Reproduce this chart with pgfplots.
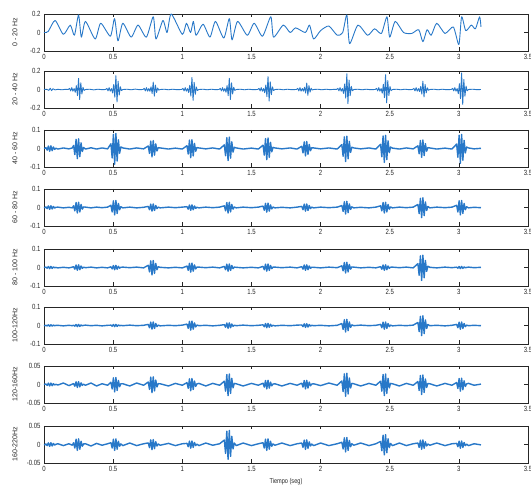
\documentclass[border=0pt]{standalone}
\usepackage{fontspec}
\setmainfont{Liberation Sans}
\newfontfamily\narrow[FakeStretch=0.8]{Liberation Sans}
\usepackage{pgfplots}
\usepackage{pgfplotstable}
\pgfplotsset{compat=1.18}
\definecolor{sigblue}{RGB}{40,120,200}

\pgfplotstableread{
t p3 p4 p5 p6 p7 p8
0 0 0 0 0 0 0
0.008 0.002 -0.001 0.001 -0.001 0.001 -0.001
0.014 0.0045 0.003 0.0018 0.0012 0.0012 0.0015
0.023 -0.009 -0.006 -0.0036 -0.0024 -0.0024 -0.003
0.032 0.0135 0.009 0.0054 0.0036 0.0036 0.0045
0.041 -0.015 -0.01 -0.006 -0.004 -0.004 -0.005
0.05 0.0143 0.0095 0.0057 0.0038 0.0038 0.0048
0.059 -0.012 -0.008 -0.0048 -0.0032 -0.0032 -0.004
0.068 0.0083 0.0055 0.0033 0.0022 0.0022 0.0028
0.077 -0.0045 -0.003 -0.0018 -0.0012 -0.0012 -0.0015
0.086 0.0015 0.001 0.0006 0.0004 0.0004 0.0005
0.1 -0.003 0.002 -0.002 0.001 -0.0015 0.002
0.14 0.003 -0.002 0.001 -0.002 0.004 -0.003
0.18 -0.002 0.001 -0.002 0.001 -0.003 0.002
0.205 0.003 -0.002 0.002 -0.001 0.001 -0.002
0.214 0.0165 0.009 0.0045 0.0018 0.0024 0.0048
0.223 -0.033 -0.018 -0.009 -0.0036 -0.0048 -0.0096
0.232 0.0495 0.027 0.0135 0.0054 0.0072 0.0144
0.241 -0.055 -0.03 -0.015 -0.006 -0.008 -0.016
0.25 0.0523 0.0285 0.0143 0.0057 0.0076 0.0152
0.259 -0.044 -0.024 -0.012 -0.0048 -0.0064 -0.0128
0.268 0.0303 0.0165 0.0083 0.0033 0.0044 0.0088
0.277 -0.0165 -0.009 -0.0045 -0.0018 -0.0024 -0.0048
0.286 0.0055 0.003 0.0015 0.0006 0.0008 0.0016
0.3 -0.003 0.002 -0.001 0.002 -0.002 0.002
0.34 0.004 -0.002 0.002 -0.001 0.004 -0.004
0.38 -0.003 0.002 -0.002 0.001 -0.004 0.003
0.42 0.003 -0.001 0.001 -0.002 0.002 -0.002
0.46 -0.002 0.002 -0.002 0.001 -0.002 0.002
0.484 0.0255 0.012 0.0036 0.0018 0.006 0.0048
0.493 -0.051 -0.024 -0.0072 -0.0036 -0.012 -0.0096
0.502 0.0765 0.036 0.0108 0.0054 0.018 0.0144
0.511 -0.085 -0.04 -0.012 -0.006 -0.02 -0.016
0.52 0.0808 0.038 0.0114 0.0057 0.019 0.0152
0.529 -0.068 -0.032 -0.0096 -0.0048 -0.016 -0.0128
0.538 0.0468 0.022 0.0066 0.0033 0.011 0.0088
0.547 -0.0255 -0.012 -0.0036 -0.0018 -0.006 -0.0048
0.556 0.0085 0.004 0.0012 0.0006 0.002 0.0016
0.57 0.003 -0.002 0.002 -0.001 0.002 -0.003
0.62 -0.003 0.002 -0.001 0.002 -0.004 0.004
0.67 0.003 -0.002 0.002 -0.001 0.004 -0.003
0.72 -0.002 0.001 -0.002 0.001 -0.002 0.002
0.754 0.0135 0.006 0.012 0.006 0.0066 0.0042
0.763 -0.027 -0.012 -0.024 -0.012 -0.0132 -0.0084
0.772 0.0405 0.018 0.036 0.018 0.0198 0.0126
0.781 -0.045 -0.02 -0.04 -0.02 -0.022 -0.014
0.79 0.0428 0.019 0.038 0.019 0.0209 0.0133
0.799 -0.036 -0.016 -0.032 -0.016 -0.0176 -0.0112
0.808 0.0248 0.011 0.022 0.011 0.0121 0.0077
0.817 -0.0135 -0.006 -0.012 -0.006 -0.0066 -0.0042
0.826 0.0045 0.002 0.004 0.002 0.0022 0.0014
0.84 0.003 -0.002 0.001 -0.002 0.002 -0.002
0.9 -0.003 0.002 -0.002 0.001 -0.004 0.003
0.95 0.002 -0.001 0.001 -0.001 0.003 -0.003
1.0 -0.003 0.002 -0.002 0.002 -0.002 0.002
1.034 0.015 0.0045 0.0075 0.0075 0.0051 0.003
1.043 -0.03 -0.009 -0.015 -0.015 -0.0102 -0.006
1.052 0.045 0.0135 0.0225 0.0225 0.0153 0.009
1.061 -0.05 -0.015 -0.025 -0.025 -0.017 -0.01
1.07 0.0475 0.0143 0.0238 0.0238 0.0162 0.0095
1.079 -0.04 -0.012 -0.02 -0.02 -0.0136 -0.008
1.088 0.0275 0.0083 0.0138 0.0138 0.0094 0.0055
1.097 -0.015 -0.0045 -0.0075 -0.0075 -0.0051 -0.003
1.106 0.005 0.0015 0.0025 0.0025 0.0017 0.001
1.12 0.003 -0.002 0.002 -0.001 0.003 -0.003
1.17 -0.002 0.002 -0.001 0.001 -0.004 0.004
1.22 0.003 -0.001 0.002 -0.002 0.003 -0.002
1.27 -0.003 0.002 -0.002 0.001 -0.002 0.002
1.304 0.0195 0.009 0.006 0.0045 0.009 0.012
1.313 -0.039 -0.018 -0.012 -0.009 -0.018 -0.024
1.322 0.0585 0.027 0.018 0.0135 0.027 0.036
1.331 -0.065 -0.03 -0.02 -0.015 -0.03 -0.04
1.34 0.0618 0.0285 0.019 0.0143 0.0285 0.038
1.349 -0.052 -0.024 -0.016 -0.012 -0.024 -0.032
1.358 0.0358 0.0165 0.011 0.0083 0.0165 0.022
1.367 -0.0195 -0.009 -0.006 -0.0045 -0.009 -0.012
1.376 0.0065 0.003 0.002 0.0015 0.003 0.004
1.39 0.003 -0.002 0.001 -0.001 0.002 -0.003
1.44 -0.003 0.002 -0.002 0.002 -0.004 0.004
1.5 0.002 -0.001 0.001 -0.001 0.003 -0.003
1.55 -0.003 0.002 -0.002 0.001 -0.002 0.002
1.584 0.018 0.0075 0.006 0.0036 0.0036 0.0048
1.593 -0.036 -0.015 -0.012 -0.0072 -0.0072 -0.0096
1.602 0.054 0.0225 0.018 0.0108 0.0108 0.0144
1.611 -0.06 -0.025 -0.02 -0.012 -0.012 -0.016
1.62 0.057 0.0238 0.019 0.0114 0.0114 0.0152
1.629 -0.048 -0.02 -0.016 -0.0096 -0.0096 -0.0128
1.638 0.033 0.0138 0.011 0.0066 0.0066 0.0088
1.647 -0.018 -0.0075 -0.006 -0.0036 -0.0036 -0.0048
1.656 0.006 0.0025 0.002 0.0012 0.0012 0.0016
1.67 0.003 -0.002 0.002 -0.002 0.002 -0.002
1.72 -0.002 0.001 -0.001 0.001 -0.004 0.004
1.78 0.003 -0.002 0.002 -0.001 0.003 -0.003
1.83 -0.003 0.002 -0.002 0.002 -0.002 0.002
1.864 0.012 0.006 0.0045 0.003 0.0036 0.0039
1.873 -0.024 -0.012 -0.009 -0.006 -0.0072 -0.0078
1.882 0.036 0.018 0.0135 0.009 0.0108 0.0117
1.891 -0.04 -0.02 -0.015 -0.01 -0.012 -0.013
1.9 0.038 0.019 0.0143 0.0095 0.0114 0.0124
1.909 -0.032 -0.016 -0.012 -0.008 -0.0096 -0.0104
1.918 0.022 0.011 0.0083 0.0055 0.0066 0.0072
1.927 -0.012 -0.006 -0.0045 -0.003 -0.0036 -0.0039
1.936 0.004 0.002 0.0015 0.001 0.0012 0.0013
1.95 0.003 -0.002 0.001 -0.001 0.002 -0.003
2.0 -0.002 0.002 -0.002 0.001 -0.003 0.004
2.06 0.003 -0.001 0.002 -0.002 0.004 -0.003
2.12 -0.003 0.002 -0.001 0.001 -0.002 0.002
2.154 0.021 0.0105 0.009 0.0105 0.0096 0.006
2.163 -0.042 -0.021 -0.018 -0.021 -0.0192 -0.012
2.172 0.063 0.0315 0.027 0.0315 0.0288 0.018
2.181 -0.07 -0.035 -0.03 -0.035 -0.032 -0.02
2.19 0.0665 0.0333 0.0285 0.0333 0.0304 0.019
2.199 -0.056 -0.028 -0.024 -0.028 -0.0256 -0.016
2.208 0.0385 0.0193 0.0165 0.0193 0.0176 0.011
2.217 -0.021 -0.0105 -0.009 -0.0105 -0.0096 -0.006
2.226 0.007 0.0035 0.003 0.0035 0.0032 0.002
2.24 0.003 -0.002 0.002 -0.001 0.002 -0.002
2.29 -0.002 0.001 -0.002 0.002 -0.004 0.004
2.35 0.003 -0.002 0.001 -0.001 0.003 -0.003
2.4 -0.003 0.002 -0.002 0.001 -0.002 0.002
2.434 0.0225 0.009 0.0045 0.006 0.009 0.0084
2.443 -0.045 -0.018 -0.009 -0.012 -0.018 -0.0168
2.452 0.0675 0.027 0.0135 0.018 0.027 0.0252
2.461 -0.075 -0.03 -0.015 -0.02 -0.03 -0.028
2.47 0.0713 0.0285 0.0143 0.019 0.0285 0.0266
2.479 -0.06 -0.024 -0.012 -0.016 -0.024 -0.0224
2.488 0.0413 0.0165 0.0083 0.011 0.0165 0.0154
2.497 -0.0225 -0.009 -0.0045 -0.006 -0.009 -0.0084
2.506 0.0075 0.003 0.0015 0.002 0.003 0.0028
2.52 0.002 -0.002 0.002 -0.002 0.002 -0.003
2.57 -0.003 0.002 -0.001 0.001 -0.004 0.004
2.62 0.003 -0.001 0.002 -0.001 0.003 -0.003
2.67 -0.002 0.002 -0.002 0.002 -0.002 0.002
2.704 0.0144 0.0165 0.021 0.0165 0.0081 0.0039
2.713 -0.0288 -0.033 -0.042 -0.033 -0.0162 -0.0078
2.722 0.0432 0.0495 0.063 0.0495 0.0243 0.0117
2.731 -0.048 -0.055 -0.07 -0.055 -0.027 -0.013
2.74 0.0456 0.0523 0.0665 0.0523 0.0257 0.0124
2.749 -0.0384 -0.044 -0.056 -0.044 -0.0216 -0.0104
2.758 0.0264 0.0303 0.0385 0.0303 0.0149 0.0072
2.767 -0.0144 -0.0165 -0.021 -0.0165 -0.0081 -0.0039
2.776 0.0048 0.0055 0.007 0.0055 0.0027 0.0013
2.79 0.003 -0.002 0.001 -0.001 0.002 -0.002
2.84 -0.003 0.002 -0.002 0.001 -0.004 0.004
2.9 0.002 -0.001 0.002 -0.002 0.003 -0.003
2.95 -0.003 0.002 -0.001 0.001 -0.002 0.002
2.984 0.024 0.012 0.0018 0.006 0.0054 0.003
2.993 -0.048 -0.024 -0.0036 -0.012 -0.0108 -0.006
3.002 0.072 0.036 0.0054 0.018 0.0162 0.009
3.011 -0.08 -0.04 -0.006 -0.02 -0.018 -0.01
3.02 0.076 0.038 0.0057 0.019 0.0171 0.0095
3.029 -0.064 -0.032 -0.0048 -0.016 -0.0144 -0.008
3.038 0.044 0.022 0.0033 0.011 0.0099 0.0055
3.047 -0.024 -0.012 -0.0018 -0.006 -0.0054 -0.003
3.056 0.008 0.004 0.0006 0.002 0.0018 0.001
3.07 0.003 -0.002 0.002 -0.001 0.003 -0.003
3.11 -0.002 0.001 -0.001 0.001 -0.002 0.002
3.16 0.001 -0.001 0.001 -0.001 0.001 -0.001
}\bursts

\pgfplotsset{
  panel/.style={
    scale only axis, width=484pt, height=37pt, anchor=north west,
    xmin=0, xmax=3.5,
    xtick={0,0.5,1,1.5,2,2.5,3,3.5},
    xticklabels={0,0.5,1,1.5,2,2.5,3,3.5},
    scaled y ticks=false, scaled x ticks=false,
    tick align=inside, major tick length=3.5pt,
    axis line style={line width=0.9pt, black!85},
    every tick/.style={black!85, line width=0.7pt},
    tick label style={font=\narrow\fontsize{7.5}{8}\selectfont, black!85},
    ylabel style={font=\fontsize{7}{8}\selectfont, black!85,
      at={(axis description cs:-0.06,0.5)}, anchor=center},
    xlabel style={font=\narrow\fontsize{7}{8}\selectfont, black!85},
  },
  r2/.style={ymin=-0.2,ymax=0.2,ytick={-0.2,0,0.2},yticklabels={-0.2,0,0.2}},
  r1/.style={ymin=-0.1,ymax=0.1,ytick={-0.1,0,0.1},yticklabels={-0.1,0,0.1}},
  r05/.style={ymin=-0.05,ymax=0.05,ytick={-0.05,0,0.05},yticklabels={-0.05,0,0.05}},
  sig/.style={sigblue, line width=0.9pt, line join=round},
  blob/.style={sigblue, line width=1.4pt, line join=round},
}

\begin{document}
\begin{tikzpicture}
\path[use as bounding box] (0,0) rectangle (531pt,-494pt);

% Panel 1
\begin{axis}[panel, r2, at={(44pt,-14pt)}, ylabel={0 - 20 Hz}]
\addplot[sig, smooth, tension=0.4] coordinates {
(0,0)(0.03,0.01)(0.08,0.13)(0.14,-0.02)(0.19,0.08)(0.22,-0.03)(0.25,0.19)(0.27,-0.05)(0.30,0.12)(0.37,-0.07)(0.41,0.10)(0.48,-0.04)(0.51,0.15)(0.535,-0.09)(0.57,0.10)(0.63,-0.05)(0.68,0.08)(0.74,-0.05)(0.79,0.17)(0.81,-0.07)(0.86,0.13)(0.89,0.00)(0.92,0.20)(1.00,-0.02)(1.03,0.10)(1.06,0.00)(1.08,0.12)(1.10,-0.03)(1.15,0.09)(1.20,-0.05)(1.24,0.12)(1.30,-0.06)(1.34,0.15)(1.36,-0.08)(1.40,0.12)(1.47,-0.03)(1.52,0.10)(1.58,-0.04)(1.64,0.17)(1.66,-0.05)(1.73,0.08)(1.78,0.0)(1.82,0.05)(1.89,0.0)(1.92,0.08)(1.95,-0.07)(2.0,0.02)(2.06,0.07)(2.12,-0.03)(2.16,0.0)(2.19,0.19)(2.21,-0.12)(2.27,0.08)(2.34,-0.03)(2.39,0.04)(2.44,-0.01)(2.48,0.17)(2.50,-0.05)(2.54,0.12)(2.60,0.0)(2.66,-0.01)(2.71,0.03)(2.74,-0.10)(2.77,0.03)(2.80,-0.03)(2.84,0.10)(2.90,-0.01)(2.96,0.06)(3.0,-0.13)(3.02,0.17)(3.05,0.02)(3.09,0.08)(3.12,0.04)(3.15,0.17)(3.16,0.06)
};
\end{axis}

% Panel 2
\begin{axis}[panel, r2, at={(44pt,-71pt)}, ylabel={20 - 40 Hz}]
\addplot[sig] coordinates {
(0,0)(0.02,0.003)(0.035,-0.01)(0.045,0.014)(0.055,-0.012)(0.065,0.008)(0.08,-0.004)(0.1,0.002)(0.13,-0.003)(0.155,0.002)
(0.175,0)(0.185,0.012)(0.193,-0.015)(0.201,0.02)(0.209,-0.018)(0.218,0.01)(0.226,-0.03)(0.234,0.042)(0.242,-0.066)(0.25,0.12)(0.258,-0.108)(0.266,0.072)(0.274,-0.048)(0.282,0.024)(0.29,-0.0096)(0.3,0)
(0.33,0.003)(0.36,-0.004)(0.39,0.003)(0.42,-0.002)
(0.445,0)(0.455,0.012)(0.463,-0.015)(0.471,0.02)(0.479,-0.018)(0.488,0.01)(0.496,-0.0375)(0.504,0.0525)(0.512,-0.0825)(0.52,0.15)(0.528,-0.135)(0.536,0.09)(0.544,-0.06)(0.552,0.03)(0.56,-0.012)(0.57,0)
(0.6,0.003)(0.63,-0.003)(0.66,0.004)(0.69,-0.002)
(0.715,0)(0.725,0.012)(0.733,-0.015)(0.741,0.02)(0.749,-0.018)(0.758,0.01)(0.766,-0.02)(0.774,0.028)(0.782,-0.044)(0.79,0.08)(0.798,-0.072)(0.806,0.048)(0.814,-0.032)(0.822,0.016)(0.83,-0.0064)(0.84,0)
(0.87,0.003)(0.9,-0.003)(0.93,0.003)(0.96,-0.002)
(0.995,0)(1.005,0.012)(1.013,-0.015)(1.021,0.02)(1.029,-0.018)(1.038,0.01)(1.046,-0.0325)(1.054,0.0455)(1.062,-0.0715)(1.07,0.13)(1.078,-0.117)(1.086,0.078)(1.094,-0.052)(1.102,0.026)(1.11,-0.0104)(1.12,0)
(1.15,0.003)(1.18,-0.003)(1.21,0.003)(1.24,-0.002)
(1.265,0)(1.275,0.012)(1.283,-0.015)(1.291,0.02)(1.299,-0.018)(1.308,0.01)(1.316,-0.03)(1.324,0.042)(1.332,-0.066)(1.34,0.12)(1.348,-0.108)(1.356,0.072)(1.364,-0.048)(1.372,0.024)(1.38,-0.0096)(1.39,0)
(1.42,0.003)(1.45,-0.003)(1.48,0.003)(1.51,-0.002)
(1.545,0)(1.555,0.012)(1.563,-0.015)(1.571,0.02)(1.579,-0.018)(1.588,0.01)(1.596,-0.035)(1.604,0.049)(1.612,-0.077)(1.62,0.14)(1.628,-0.126)(1.636,0.084)(1.644,-0.056)(1.652,0.028)(1.66,-0.0112)(1.67,0)
(1.7,0.003)(1.73,-0.003)(1.76,0.003)(1.79,-0.002)
(1.825,0)(1.835,0.012)(1.843,-0.015)(1.851,0.02)(1.859,-0.018)(1.868,0.01)(1.876,-0.0175)(1.884,0.0245)(1.892,-0.0385)(1.9,0.07)(1.908,-0.063)(1.916,0.042)(1.924,-0.028)(1.932,0.014)(1.94,-0.0056)(1.95,0)
(1.98,0.003)(2.01,-0.003)(2.04,0.003)(2.07,-0.002)(2.1,0.002)
(2.115,0)(2.125,0.012)(2.133,-0.015)(2.141,0.02)(2.149,-0.018)(2.158,0.01)(2.166,-0.0425)(2.174,0.0595)(2.182,-0.0935)(2.19,0.17)(2.198,-0.153)(2.206,0.102)(2.214,-0.068)(2.222,0.034)(2.23,-0.0136)(2.24,0)
(2.27,0.003)(2.3,-0.003)(2.33,0.003)(2.36,-0.002)
(2.395,0)(2.405,0.012)(2.413,-0.015)(2.421,0.02)(2.429,-0.018)(2.438,0.01)(2.446,-0.04)(2.454,0.056)(2.462,-0.088)(2.47,0.16)(2.478,-0.144)(2.486,0.096)(2.494,-0.064)(2.502,0.032)(2.51,-0.0128)(2.52,0)
(2.55,0.003)(2.58,-0.003)(2.61,0.003)(2.64,-0.002)
(2.665,0)(2.675,0.012)(2.683,-0.015)(2.691,0.02)(2.699,-0.018)(2.708,0.01)(2.716,-0.0225)(2.724,0.0315)(2.732,-0.0495)(2.74,0.09)(2.748,-0.081)(2.756,0.054)(2.764,-0.036)(2.772,0.018)(2.78,-0.0072)(2.79,0)
(2.82,0.003)(2.85,-0.003)(2.88,0.003)(2.91,-0.002)
(2.945,0)(2.955,0.012)(2.963,-0.015)(2.971,0.02)(2.979,-0.018)(2.988,0.01)(2.996,-0.045)(3.004,0.063)(3.012,-0.099)(3.02,0.18)(3.028,-0.162)(3.036,0.108)(3.044,-0.072)(3.052,0.036)(3.06,-0.0144)(3.07,0)
(3.1,0.003)(3.13,-0.002)(3.16,0)
};
\end{axis}

% Panel 3
\begin{axis}[panel, r1, at={(44pt,-130pt)}, ylabel={40 - 60 Hz}]
\addplot[blob] table[x=t,y=p3] {\bursts};
\end{axis}

% Panel 4
\begin{axis}[panel, r1, at={(44pt,-189pt)}, ylabel={60 - 80 Hz}]
\addplot[blob] table[x=t,y=p4] {\bursts};
\end{axis}

% Panel 5
\begin{axis}[panel, r1, at={(44pt,-249pt)}, ylabel={80 - 100 Hz}]
\addplot[blob] table[x=t,y=p5] {\bursts};
\end{axis}

% Panel 6
\begin{axis}[panel, r1, at={(44pt,-307pt)}, ylabel={100-120Hz}]
\addplot[blob] table[x=t,y=p6] {\bursts};
\end{axis}

% Panel 7
\begin{axis}[panel, r05, at={(44pt,-366pt)}, ylabel={120-160Hz}]
\addplot[blob] table[x=t,y=p7] {\bursts};
\end{axis}

% Panel 8
\begin{axis}[panel, r05, at={(44pt,-426pt)}, ylabel={160-220Hz}, xlabel={Tiempo (seg)}]
\addplot[blob] table[x=t,y=p8] {\bursts};
\end{axis}
\end{tikzpicture}
\end{document}
